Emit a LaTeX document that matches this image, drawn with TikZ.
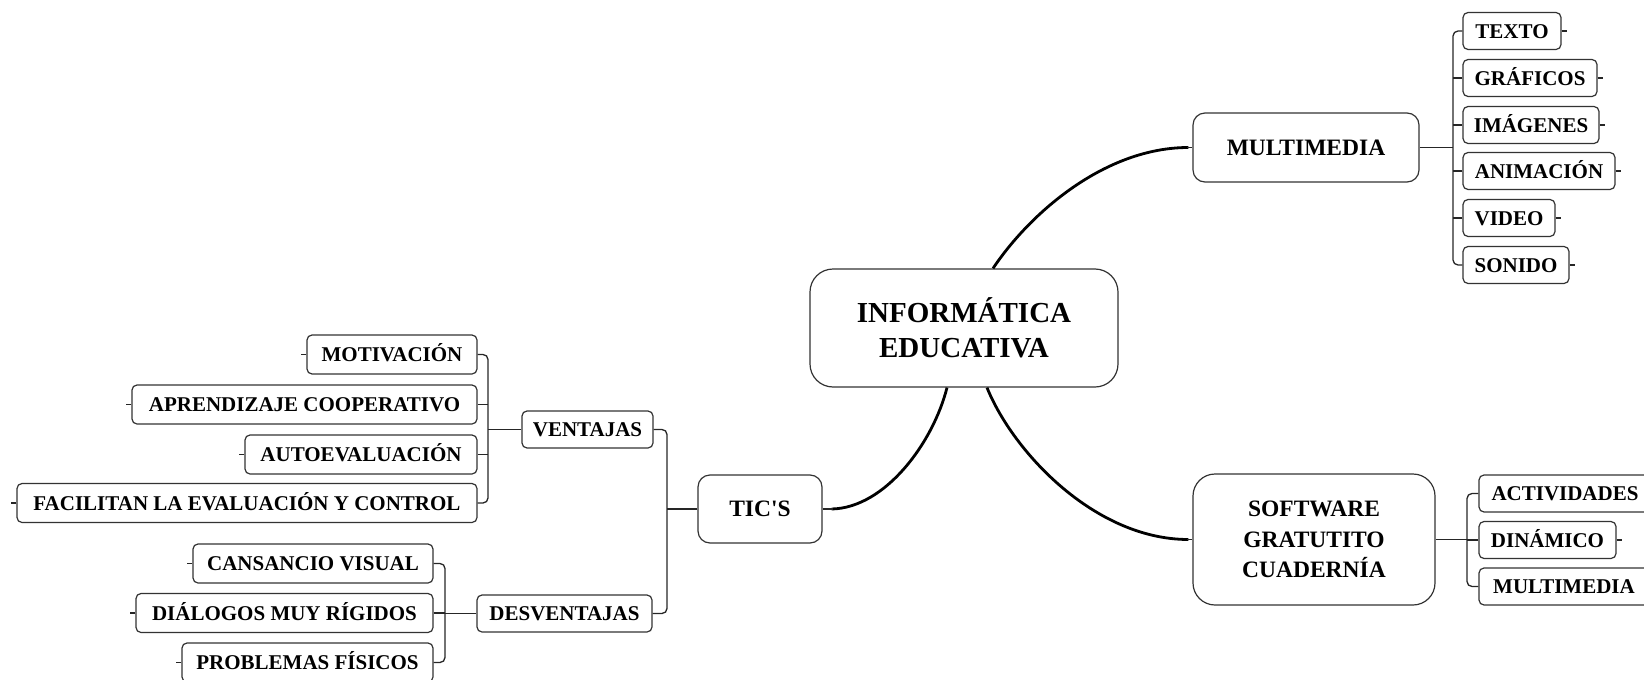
\documentclass[tikz,border=0pt]{standalone}
\usepackage{fontspec}
\setmainfont{Liberation Serif}[Ligatures=TeXOff]
\begin{document}
\begin{tikzpicture}[x=1pt,y=-1pt,
  box/.style={draw=black!80, line width=1.2pt, fill=white, inner sep=0pt, align=center, text=black},
  leaf/.style={box, rounded corners=5pt, minimum height=37pt, font=\fontsize{21}{25}\selectfont\bfseries, text height=14pt, text depth=0pt},
  lleaf/.style={leaf, minimum height=39pt},
  mid/.style={box, rounded corners=12pt, font=\fontsize{23.5}{30.5}\selectfont\bfseries},
  link/.style={draw=black!85, line width=1.3pt, rounded corners=5pt},
  trunk/.style={draw=black, line width=2.8pt},
  tick/.style={draw=black!85, line width=1.3pt}]
\useasboundingbox (0,0) rectangle (1644,680);

% root
\node[box, rounded corners=23pt, minimum width=308pt, minimum height=118pt,
      font=\fontsize{29}{35}\selectfont\bfseries] (root) at (964,328) {INFORMÁTICA\\EDUCATIVA};

% level 1
\node[mid, minimum width=226pt, minimum height=69pt] (mm) at (1306,147.5) {MULTIMEDIA};
\node[mid, rounded corners=22pt, minimum width=242pt, minimum height=131pt] (sw) at (1314,539.5) {SOFTWARE\\GRATUTITO\\CUADERNÍA};
\node[mid, minimum width=124pt, minimum height=68pt] (tics) at (760,509) {TIC'S};

% multimedia leaves
\node[leaf, minimum width=98pt]  (texto) at (1512,31)  {TEXTO};
\node[leaf, minimum width=134pt] (graf)  at (1530,78)  {GRÁFICOS};
\node[leaf, minimum width=136pt] (imag)  at (1531,125) {IMÁGENES};
\node[leaf, minimum width=152pt] (anim)  at (1539,171) {ANIMACIÓN};
\node[leaf, minimum width=92pt]  (video) at (1509,218) {VIDEO};
\node[leaf, minimum width=106pt] (son)   at (1516,265) {SONIDO};

% software leaves
\node[leaf, minimum width=172pt] (act)  at (1565,493.5) {ACTIVIDADES};
\node[leaf, minimum width=137pt] (din)  at (1547.5,540) {DINÁMICO};
\node[leaf, minimum width=170pt] (mm2)  at (1564,586.5) {MULTIMEDIA};

% tic's children
\node[leaf, minimum width=131pt] (vent) at (587.5,429.5) {VENTAJAS};
\node[leaf, minimum width=175pt] (desv) at (564.5,613.5) {DESVENTAJAS};

% ventajas leaves
\node[lleaf, minimum width=170pt] (moti) at (392,354.5) {MOTIVACIÓN};
\node[lleaf, minimum width=345pt] (apre) at (304.5,404.5) {APRENDIZAJE COOPERATIVO};
\node[lleaf, minimum width=232pt] (auto) at (361,454.5) {AUTOEVALUACIÓN};
\node[lleaf, minimum width=460pt] (faci) at (247,503) {FACILITAN LA EVALUACIÓN Y CONTROL};

% desventajas leaves
\node[lleaf, minimum width=240pt] (cans) at (313,563.5) {CANSANCIO VISUAL};
\node[lleaf, minimum width=297pt] (dial) at (284.5,613) {DIÁLOGOS MUY RÍGIDOS};
\node[lleaf, minimum width=251pt] (prob) at (307.5,662.5) {PROBLEMAS FÍSICOS};

% bracket junctions
\coordinate (bm) at (1453,147.5);
\coordinate (bs) at (1467,539.5);
\coordinate (bt) at (667,509);
\coordinate (bv) at (488,429.5);
\coordinate (bd) at (445,613.5);

% trunks
\draw[trunk] ([xshift=29pt]root.north) .. controls (1030,213) and (1105,147.5) .. ([xshift=-4pt]mm.west);
\draw[tick] ([xshift=-5pt]mm.west) -- (mm.west);
\draw[trunk] ([xshift=-17pt]root.south) .. controls (933,443) and (885,508) .. ([xshift=9pt]tics.east);
\draw[tick] ([xshift=10pt]tics.east) -- (tics.east);
\draw[trunk] ([xshift=23pt]root.south) .. controls (1013,452) and (1095,539.5) .. ([xshift=-4pt]sw.west);
\draw[tick] ([xshift=-5pt]sw.west) -- (sw.west);

% multimedia bracket
\draw[link] (mm.east) -- (bm);
\draw[link] (texto.west) -| (bm) |- (son.west);
\foreach \n in {graf,imag,anim,video} \draw[link] (\n.west) -- (\n.west -| bm);

% software bracket
\draw[link] (sw.east) -- (bs);
\draw[link] (act.west) -| (bs) |- (mm2.west);
\draw[link] (din.west) -- (din.west -| bs);

% tic's bracket
\draw[link] (tics.west) -- (bt);
\draw[link] (vent.east) -| (bt) |- (desv.east);

% ventajas bracket
\draw[link] (vent.west) -- (bv);
\draw[link] (moti.east) -| (bv) |- (faci.east);
\foreach \n in {apre,auto} \draw[link] (\n.east) -- (\n.east -| bv);

% desventajas bracket
\draw[link] (desv.west) -- (bd);
\draw[link] (cans.east) -| (bd) |- (prob.east);
\draw[link] (dial.east) -- (dial.east -| bd);

% outer ticks
\foreach \n in {texto,graf,imag,anim,video,son,din} \draw[tick] (\n.east) -- ++(5,0);
\foreach \n in {moti,apre,auto,faci,cans,dial,prob} \draw[tick] (\n.west) -- ++(-5,0);
\end{tikzpicture}
\end{document}
